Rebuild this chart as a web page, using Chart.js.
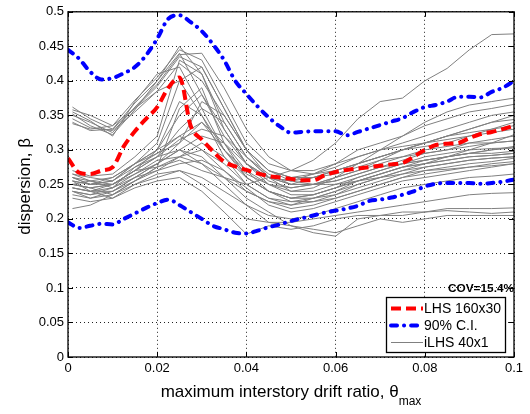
<!DOCTYPE html>
<html><head><meta charset="utf-8">
<script src="https://cdn.jsdelivr.net/npm/chart.js@4"></script>
<style>html,body{margin:0;padding:0;background:#fff}</style>
</head><body>
<canvas id="c" width="530" height="414"></canvas>
<script>
// ---------- data ----------
const xFine = [0,0.0025,0.005,0.0075,0.01,0.0125,0.015,0.0175,0.02,0.0225,0.025,0.0275,0.03,0.0325,0.035,0.0375,0.04,0.0425,0.045,0.0475,0.05,0.0525,0.055,0.0575,0.06,0.0625,0.065,0.0675,0.07,0.0725,0.075,0.0775,0.08,0.0825,0.085,0.0875,0.09,0.0925,0.095,0.0975,0.1];
const lhsMean = [0.288,0.267,0.265,0.27,0.275,0.305,0.327,0.345,0.362,0.39,0.405,0.335,0.315,0.298,0.283,0.276,0.271,0.266,0.262,0.26,0.258,0.256,0.256,0.263,0.268,0.271,0.273,0.275,0.277,0.279,0.281,0.29,0.3,0.307,0.309,0.31,0.317,0.323,0.326,0.33,0.335];
const ciUpper = [0.445,0.432,0.413,0.402,0.404,0.411,0.42,0.437,0.461,0.49,0.495,0.485,0.472,0.453,0.43,0.4,0.381,0.363,0.347,0.334,0.325,0.326,0.327,0.327,0.327,0.321,0.326,0.331,0.336,0.341,0.346,0.355,0.362,0.365,0.37,0.377,0.377,0.376,0.384,0.39,0.4];
const ciLower = [0.195,0.187,0.19,0.193,0.192,0.2,0.208,0.216,0.223,0.228,0.22,0.21,0.2,0.19,0.185,0.18,0.179,0.183,0.188,0.192,0.197,0.201,0.205,0.209,0.212,0.215,0.219,0.226,0.228,0.231,0.235,0.24,0.247,0.251,0.252,0.252,0.252,0.251,0.252,0.254,0.257];

const xRuns = [0.001,0.005,0.01,0.015,0.02,0.025,0.03,0.035,0.04,0.045,0.05,0.055,0.06,0.065,0.07,0.075,0.08,0.085,0.09,0.095,0.1];
const iLHSRuns = [
 [.358,.35,.335,.372,.405,.445,.43,.37,.31,.28,.27,.27,.28,.29,.30,.31,.32,.33,.34,.35,.355],
 [.362,.345,.33,.368,.40,.45,.41,.34,.29,.26,.25,.26,.27,.28,.29,.30,.31,.32,.325,.33,.335],
 [.35,.34,.325,.362,.395,.438,.44,.39,.33,.29,.27,.265,.27,.28,.29,.30,.305,.31,.32,.33,.34],
 [.352,.335,.322,.358,.40,.44,.38,.32,.28,.255,.245,.25,.26,.27,.28,.29,.295,.30,.31,.315,.32],
 [.345,.332,.328,.355,.385,.425,.40,.35,.30,.27,.26,.26,.265,.275,.285,.29,.30,.305,.31,.31,.313],
 [.34,.328,.33,.36,.392,.435,.42,.36,.30,.26,.24,.24,.25,.26,.27,.28,.285,.29,.295,.30,.303],
 [.355,.342,.32,.37,.41,.42,.36,.30,.26,.24,.23,.235,.245,.255,.265,.275,.28,.285,.29,.292,.295],
 [.338,.33,.335,.36,.385,.40,.35,.29,.25,.23,.225,.23,.24,.25,.26,.27,.275,.28,.285,.288,.29],
 [.27,.262,.265,.29,.32,.43,.41,.33,.28,.26,.255,.265,.28,.30,.31,.32,.335,.345,.355,.36,.366],
 [.255,.25,.255,.28,.31,.40,.42,.36,.30,.27,.26,.265,.275,.29,.30,.305,.31,.32,.33,.34,.344],
 [.25,.245,.25,.27,.30,.37,.35,.30,.27,.25,.24,.245,.26,.27,.285,.30,.31,.315,.32,.325,.33],
 [.26,.255,.245,.275,.29,.33,.36,.34,.29,.26,.25,.25,.255,.265,.275,.285,.295,.30,.305,.31,.313],
 [.245,.24,.24,.26,.28,.30,.32,.31,.28,.25,.235,.235,.245,.26,.27,.28,.29,.295,.30,.302,.303],
 [.24,.235,.245,.265,.285,.29,.30,.28,.25,.23,.22,.225,.235,.25,.26,.27,.28,.285,.29,.292,.295],
 [.265,.255,.25,.27,.275,.285,.27,.26,.24,.225,.215,.22,.23,.24,.25,.26,.27,.275,.28,.283,.288],
 [.235,.23,.235,.255,.27,.28,.285,.27,.245,.22,.21,.215,.225,.235,.245,.255,.26,.265,.27,.275,.28],
 [.25,.245,.235,.25,.265,.27,.26,.24,.22,.205,.20,.205,.215,.225,.235,.245,.25,.255,.26,.262,.265],
 [.255,.24,.245,.26,.28,.31,.34,.31,.27,.24,.225,.225,.23,.24,.25,.26,.265,.27,.275,.28,.283],
 [.23,.225,.23,.25,.26,.27,.25,.225,.20,.195,.195,.20,.205,.21,.215,.22,.225,.23,.235,.237,.238],
 [.245,.24,.23,.245,.255,.26,.24,.21,.178,.19,.185,.19,.20,.205,.205,.21,.21,.215,.215,.215,.216],
 [.215,.22,.235,.255,.275,.29,.28,.25,.22,.195,.19,.185,.18,.19,.20,.195,.20,.205,.205,.205,.205],
 [.26,.25,.26,.28,.30,.35,.38,.33,.28,.26,.255,.26,.27,.28,.29,.30,.31,.32,.33,.34,.35],
 [.25,.245,.25,.27,.29,.315,.33,.32,.29,.265,.25,.25,.255,.265,.275,.28,.285,.29,.295,.295,.298],
 [.24,.23,.24,.26,.27,.29,.31,.29,.26,.24,.23,.23,.235,.245,.255,.265,.275,.28,.285,.288,.29],
 [.265,.26,.255,.275,.295,.32,.34,.30,.265,.25,.245,.25,.26,.28,.30,.32,.34,.355,.365,.37,.375],
 [.255,.25,.25,.27,.29,.30,.28,.26,.25,.26,.27,.285,.31,.345,.37,.375,.40,.418,.445,.467,.468],
 [.245,.24,.25,.265,.28,.30,.29,.26,.23,.21,.19,.18,.175,.20,.205,.205,.21,.212,.21,.208,.21],
 [.25,.255,.26,.28,.295,.31,.37,.35,.30,.27,.255,.25,.25,.255,.26,.265,.27,.272,.275,.277,.28],
 [.24,.235,.24,.255,.275,.36,.39,.31,.26,.24,.23,.235,.245,.255,.265,.275,.285,.29,.295,.30,.305],
 [.26,.25,.255,.28,.30,.32,.30,.27,.24,.225,.22,.23,.24,.255,.265,.275,.28,.29,.30,.31,.322]
];

const xTicks = [0,0.02,0.04,0.06,0.08,0.1];
const xTickLabels = ['0','0.02','0.04','0.06','0.08','0.1'];
const yTicks = [0,0.05,0.1,0.15,0.2,0.25,0.3,0.35,0.4,0.45,0.5];
const yTickLabels = ['0','0.05','0.1','0.15','0.2','0.25','0.3','0.35','0.4','0.45','0.5'];
const legendLabels = ['LHS 160x30','90% C.I.','iLHS 40x1'];
const covText = 'COV=15.4%';
const xTitle = 'maximum interstory drift ratio, \u03B8';
const xTitleSub = 'max';
const yTitle = 'dispersion, \u03B2';

// ---------- styles ----------
const FONT = "'Liberation Sans', Arial, Helvetica, sans-serif";
const RED = 'rgb(255,0,0)';
const BLUE = 'rgb(0,0,255)';
const GRAY = 'rgb(128,128,128)';
const redStyle = {borderColor: RED, borderWidth: 4, borderDash: [10,5], borderCapStyle: 'butt'};
const blueStyle = {borderColor: BLUE, borderWidth: 4, borderDash: [6,7,0.1,7], borderCapStyle: 'round'};
const grayStyle = {borderColor: GRAY, borderWidth: 1, borderDash: [], borderCapStyle: 'butt'};

const pts = (xs, ys) => xs.map((x,i) => ({x: x, y: ys[i]}));

const datasets = [];
datasets.push(Object.assign({label: legendLabels[1], data: pts(xFine, ciUpper), order: 0, tension: 0.4, cubicInterpolationMode: 'monotone'}, blueStyle));
datasets.push(Object.assign({label: legendLabels[1] + ' low', data: pts(xFine, ciLower), order: 0, tension: 0.4, cubicInterpolationMode: 'monotone'}, blueStyle));
datasets.push(Object.assign({label: legendLabels[0], data: pts(xFine, lhsMean), order: 1, tension: 0.4, cubicInterpolationMode: 'monotone'}, redStyle));
iLHSRuns.forEach((run, k) => {
  datasets.push(Object.assign({label: legendLabels[2] + ' #' + (k+1), data: pts(xRuns, run), order: 2, tension: 0}, grayStyle));
});
datasets.forEach(d => { d.pointRadius = 0; d.fill = false; });

const decorPlugin = {
  id: 'decor',
  afterDraw(chart) {
    const ctx = chart.ctx;
    const a = chart.chartArea;
    const xs = chart.scales.x, ys = chart.scales.y;
    ctx.save();
    // axes box
    ctx.strokeStyle = '#000';
    ctx.lineWidth = 1.3;
    ctx.setLineDash([]);
    ctx.strokeRect(a.left, a.top, a.right - a.left, a.bottom - a.top);
    // inward ticks
    ctx.lineWidth = 1;
    ctx.beginPath();
    yTicks.forEach(v => {
      const y = Math.round(ys.getPixelForValue(v)) + 0.5;
      ctx.moveTo(a.left, y); ctx.lineTo(a.left + 5, y);
      ctx.moveTo(a.right, y); ctx.lineTo(a.right - 5, y);
    });
    xTicks.forEach(v => {
      const x = Math.round(xs.getPixelForValue(v)) + 0.5;
      ctx.moveTo(x, a.bottom); ctx.lineTo(x, a.bottom - 5);
      ctx.moveTo(x, a.top); ctx.lineTo(x, a.top + 5);
    });
    ctx.stroke();

    ctx.fillStyle = '#000';
    // y title
    ctx.save();
    ctx.translate(30, (a.top + a.bottom) / 2 + 2);
    ctx.rotate(-Math.PI / 2);
    ctx.font = '17px ' + FONT;
    ctx.textAlign = 'center';
    ctx.textBaseline = 'alphabetic';
    ctx.fillText(yTitle, 0, 0);
    ctx.restore();

    // x title with subscript
    ctx.font = '17px ' + FONT;
    const w1 = ctx.measureText(xTitle).width;
    ctx.font = '12px ' + FONT;
    const w2 = ctx.measureText(xTitleSub).width;
    const x0 = (a.left + a.right) / 2 - (w1 + w2) / 2;
    ctx.textAlign = 'left';
    ctx.textBaseline = 'alphabetic';
    ctx.font = '17px ' + FONT;
    ctx.fillText(xTitle, x0, 397);
    ctx.font = '12px ' + FONT;
    ctx.fillText(xTitleSub, x0 + w1, 405);

    // COV text
    ctx.font = 'bold 11px ' + FONT;
    const cw = ctx.measureText(covText).width;
    ctx.save();
    const sx = 66 / cw;
    ctx.translate(a.right, 292);
    ctx.scale(sx, 1);
    ctx.textAlign = 'right';
    ctx.fillText(covText, 0, 0);
    ctx.restore();

    // legend
    const lx = 386, ly = 297, lw = 119, lh = 55;
    ctx.fillStyle = '#fff';
    ctx.fillRect(lx, ly, lw, lh);
    ctx.strokeStyle = '#000';
    ctx.lineWidth = 1.3;
    ctx.strokeRect(lx + 0.5, ly + 0.5, lw, lh);
    const rows = [
      {label: legendLabels[0], st: redStyle, y: 308},
      {label: legendLabels[1], st: blueStyle, y: 325},
      {label: legendLabels[2], st: grayStyle, y: 342}
    ];
    rows.forEach(r => {
      ctx.save();
      ctx.strokeStyle = r.st.borderColor;
      ctx.lineWidth = r.st.borderWidth;
      ctx.setLineDash(r.st.borderDash);
      ctx.lineCap = r.st.borderCapStyle;
      ctx.beginPath();
      ctx.moveTo(391, r.y + 0.5);
      ctx.lineTo(423, r.y + 0.5);
      ctx.stroke();
      ctx.restore();
      ctx.fillStyle = '#000';
      ctx.font = '14px ' + FONT;
      ctx.textAlign = 'left';
      ctx.textBaseline = 'middle';
      ctx.fillText(r.label, 424, r.y + 1);
    });
    ctx.restore();
  }
};

new Chart(document.getElementById('c'), {
  type: 'line',
  data: {datasets: datasets},
  plugins: [decorPlugin],
  options: {
    responsive: false,
    animation: false,
    layout: {padding: {left: 0, right: 16, top: 10, bottom: 0}},
    plugins: {legend: {display: false}, tooltip: {enabled: false}},
    scales: {
      x: {
        type: 'linear', min: 0, max: 0.1,
        afterBuildTicks: s => { s.ticks = xTicks.map(v => ({value: v})); },
        afterFit: s => { s.height = 57; },
        ticks: {
          callback: (v) => xTickLabels[xTicks.findIndex(t => Math.abs(t - v) < 1e-9)],
          font: {family: FONT, size: 13}, color: '#000', padding: 4, maxRotation: 0, autoSkip: false
        },
        grid: {color: '#222', lineWidth: 1, drawTicks: false},
        border: {display: false, dash: [1,3]}
      },
      y: {
        type: 'linear', min: 0, max: 0.5,
        afterBuildTicks: s => { s.ticks = yTicks.map(v => ({value: v})); },
        afterFit: s => { s.width = 68; },
        ticks: {
          callback: (v) => yTickLabels[yTicks.findIndex(t => Math.abs(t - v) < 1e-9)],
          font: {family: FONT, size: 13}, color: '#000', padding: 4, autoSkip: false
        },
        grid: {color: '#222', lineWidth: 1, drawTicks: false},
        border: {display: false, dash: [1,3]}
      }
    }
  }
});
</script>
</body></html>
